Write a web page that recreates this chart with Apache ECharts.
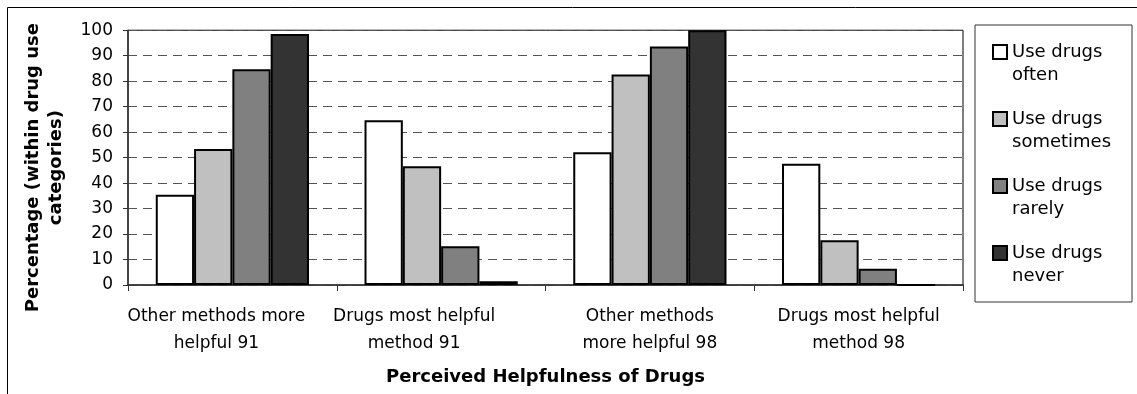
<!DOCTYPE html>
<html>
<head>
<meta charset="utf-8">
<title>Perceived Helpfulness of Drugs</title>
<script src="https://cdn.jsdelivr.net/npm/echarts@6/dist/echarts.min.js"></script>
<style>
  html, body { margin: 0; padding: 0; background: #ffffff; }
  #chart { width: 1137px; height: 394px; }
</style>
</head>
<body>
<div id="chart"></div>
<script>
// Categories along the x axis (two-line labels)
const categories = [
  'Other methods more\nhelpful 91',
  'Drugs most helpful\nmethod 91',
  'Other methods\nmore helpful 98',
  'Drugs most helpful\nmethod 98'
];

// Percentages within each drug-use category
const useOften     = [35.4, 64.7, 52.1, 47.6];
const useSometimes = [53.4, 46.6, 82.6, 17.6];
const useRarely    = [84.7, 15.2, 93.6, 6.4];
const useNever     = [98.5, 1.5, 100, 0];

const seriesNames = ['Use drugs\noften', 'Use drugs\nsometimes', 'Use drugs\nrarely', 'Use drugs\nnever'];
const seriesFills = ['#ffffff', '#c0c0c0', '#808080', '#333333'];

// Y axis ticks
const yMin = 0, yMax = 100, yStep = 10;

const FONT = 'DejaVu Sans';

const chart = echarts.init(document.getElementById('chart'), null, { renderer: 'canvas' });

const values = [useOften, useSometimes, useRarely, useNever];

const option = {
  animation: false,
  backgroundColor: '#ffffff',
  textStyle: { fontFamily: FONT, color: '#000' },
  grid: {
    left: 128, top: 26, right: 174, bottom: 109,
    show: true, borderColor: '#000', borderWidth: 1, backgroundColor: 'transparent'
  },
  legend: {
    orient: 'vertical',
    left: 992, top: 17.5,
    padding: 0,
    icon: 'rect',
    itemWidth: 14, itemHeight: 14,
    itemGap: -2,
    selectedMode: false,
    itemStyle: { borderColor: '#000', borderWidth: 2 },
    // a leading blank line keeps the swatch level with the first text line
    formatter: (name) => '\n' + name,
    textStyle: { fontFamily: FONT, fontSize: 18, lineHeight: 23, color: '#000' },
    data: seriesNames
  },
  xAxis: {
    type: 'category',
    data: categories,
    name: 'Perceived Helpfulness of Drugs',
    nameLocation: 'middle',
    nameGap: 83,
    nameTextStyle: { fontFamily: FONT, fontWeight: 'bold', fontSize: 18, color: '#000' },
    axisLine: { show: true, lineStyle: { color: '#333', width: 1.5 } },
    axisTick: { show: true, alignWithLabel: false, length: 6, lineStyle: { color: '#333' } },
    axisLabel: {
      interval: 0, margin: 18, fontFamily: FONT, fontSize: 17, lineHeight: 27, color: '#000',
      formatter: (v, i) => '{c' + i + '|' + v.split('\n').join('}\n{c' + i + '|') + '}',
      rich: {
        c0: { fontFamily: FONT, fontSize: 17, lineHeight: 27, color: '#000', padding: [0, 32, 0, 0] },
        c1: { fontFamily: FONT, fontSize: 17, lineHeight: 27, color: '#000', padding: [0, 54, 0, 0] },
        c2: { fontFamily: FONT, fontSize: 17, lineHeight: 27, color: '#000' },
        c3: { fontFamily: FONT, fontSize: 17, lineHeight: 27, color: '#000' }
      }
    },
    splitLine: { show: false }
  },
  yAxis: {
    type: 'value',
    min: yMin, max: yMax, interval: yStep,
    name: 'Percentage (within drug use\ncategories)',
    nameLocation: 'middle',
    nameRotate: 90,
    nameGap: 60,
    nameTextStyle: {
      fontFamily: FONT, fontWeight: 'bold', fontSize: 18, lineHeight: 23, color: '#000',
      align: 'center', padding: [0, 20, 0, 0]
    },
    axisLine: { show: true, lineStyle: { color: '#333', width: 1.5 } },
    axisTick: { show: true, length: 5, lineStyle: { color: '#333' } },
    axisLabel: { margin: 15, fontFamily: FONT, fontSize: 17, color: '#000' },
    splitLine: { show: true, lineStyle: { color: '#555', width: 1, type: [9, 6] } }
  },
  series: seriesNames.map((name, k) => ({
    name: name,
    type: 'bar',
    data: values[k],
    barGap: '0%',
    barCategoryGap: '26.6%',
    itemStyle: { color: seriesFills[k], borderColor: '#000', borderWidth: 2 }
  })),
  graphic: [
    // outer chart frame (top and left edges visible)
    { type: 'rect', shape: { x: 7.5, y: 7.5, width: 1140, height: 400 },
      style: { fill: 'none', stroke: '#000', lineWidth: 1 }, silent: true, z: -1 },
    // legend frame
    { type: 'rect', shape: { x: 975, y: 25, width: 157, height: 277 },
      style: { fill: 'none', stroke: '#333', lineWidth: 1 }, silent: true, z: -1 }
  ]
};

chart.setOption(option);
</script>
</body>
</html>
